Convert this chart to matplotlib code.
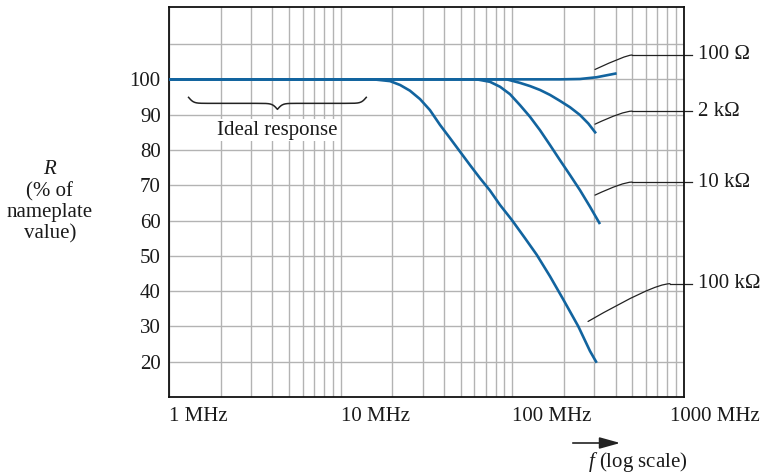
import numpy as np
import matplotlib.pyplot as plt
import matplotlib.patches as mpatches
import matplotlib.transforms as mtransforms

plt.rcParams['font.family'] = 'Liberation Serif'
plt.rcParams['mathtext.fontset'] = 'custom'
plt.rcParams['mathtext.rm'] = 'Liberation Serif'
plt.rcParams['mathtext.it'] = 'Liberation Serif:italic'

# frequency (MHz) and R (% of nameplate value)
f_100 = [1, 189.5, 248, 310, 405]
r_100 = [100, 100, 100.1, 100.6, 101.7]

f_2k = [1, 92.7, 110.8, 126.7, 144.9, 165.7, 189.5, 216.7, 247.8, 277, 307]
r_2k = [100, 100, 99.0, 98.1, 97.0, 95.6, 93.9, 92.1, 89.9, 87.5, 84.7]

f_10k = [1, 62.0, 74.1, 84.8, 96.9, 110.8, 126.7, 144.9, 165.7, 189.5, 216.7,
         247.8, 283.5, 324]
r_10k = [100, 100, 99.3, 97.9, 95.8, 92.7, 89.4, 85.6, 81.4, 77.1, 72.9,
         68.6, 63.9, 59.0]

f_100k = [1, 15.5, 19.4, 22.2, 25.3, 29.0, 33.1, 37.9, 43.4, 49.6, 56.7, 64.8,
          74.1, 84.8, 99.2, 118.5, 138.7, 165.7, 198.2, 242.3, 283.5, 310]
r_100k = [100, 100, 99.5, 98.4, 96.8, 94.4, 91.3, 87.1, 83.3, 79.5, 75.7, 72.0,
          68.5, 64.4, 60.2, 55.0, 50.3, 44.2, 37.6, 30.0, 23.0, 19.7]

series_f = [f_100, f_2k, f_10k, f_100k]
series_r = [r_100, r_2k, r_10k, r_100k]

# leader lines for the curve labels
labels = ['100 \u03a9', '2 k\u03a9', '10 k\u03a9', '100 k\u03a9']
lead_f = [303, 303, 303, 276]
lead_r = [102.8, 87.3, 67.2, 31.4]
join_f = [498, 498, 498, 829]
label_r = [106.9, 91.0, 70.9, 42.1]
lead_angle = [25, 25, 25, 30]
hline_end_f = 1113
label_f = 1207

xticks = [1, 10, 100, 1000]
xticklabels = ['1 MHz', '10 MHz', '100 MHz', '1000 MHz']
yticks = [20, 30, 40, 50, 60, 70, 80, 90, 100, 110]
yticklabels = ['20', '30', '40', '50', '60', '70', '80', '90', '100', '']

brace_f = [1.3, 14.1]
brace_top = 94.9

blue = '#12649f'
grid_c = '#b3b3b3'
ink = '#222222'
txt_c = '#1a1a1a'

fig = plt.figure(figsize=(7.62, 4.75), dpi=100)
ax = fig.add_axes([169/762, 1 - 397/475, (684 - 169)/762, (397 - 7)/475])
ax.set_xscale('log')
ax.set_xlim(1, 1000)
ax.set_ylim(10, 120.5)

ax.set_xticks(xticks)
ax.set_xticklabels(xticklabels, ha='left')
ax.set_yticks(yticks)
ax.set_yticklabels(yticklabels)
ax.tick_params(which='both', length=0, labelsize=15, colors=txt_c)
ax.tick_params(axis='y', pad=6)
ax.tick_params(axis='x', pad=7)
ax.grid(True, which='both', color=grid_c, lw=1.0)
ax.set_axisbelow(True)
for s in ax.spines.values():
    s.set_linewidth(1.3)
    s.set_color('#111111')

# last tick label is pulled back so it fits the figure
lab = ax.get_xticklabels()[-1]
lab.set_transform(lab.get_transform() + mtransforms.ScaledTranslation(-14/100, 0, fig.dpi_scale_trans))

for fx, rx in zip(series_f, series_r):
    ax.plot(fx, rx, color=blue, lw=1.9, solid_capstyle='butt', solid_joinstyle='round', zorder=3)

for i in range(len(labels)):
    ax.annotate('', xy=(lead_f[i], lead_r[i]), xytext=(join_f[i], label_r[i]),
                arrowprops=dict(arrowstyle='-', color=ink, lw=0.9, shrinkA=0, shrinkB=0,
                                connectionstyle='angle3,angleA=0,angleB=%d' % lead_angle[i]),
                annotation_clip=False)
    ax.plot([join_f[i], hline_end_f], [label_r[i], label_r[i]], color=ink, lw=0.9,
            clip_on=False)
    ax.text(label_f, label_r[i], labels[i], fontsize=15, va='center', ha='left', color=txt_c)

# curly brace over the ideal range
l1, l2 = np.log10(brace_f[0]), np.log10(brace_f[1])
u = np.linspace(0, 1, 300)
beta = 35
half = 1/(1 + np.exp(-beta*u)) + 1/(1 + np.exp(-beta*(u - 1)))
yh = brace_top - (half - 0.5)*3.4
xh = l1 + u*(l2 - l1)/2
bx = np.concatenate([xh, l2 - (xh[::-1] - l1)])
by = np.concatenate([yh, yh[::-1]])
ax.plot(10**bx, by, color=ink, lw=1.1, zorder=4)
ax.text(10**((l1 + l2)/2), 85.6, 'Ideal response', fontsize=15, ha='center', va='center',
        color=txt_c, bbox=dict(facecolor='white', edgecolor='none', pad=1), zorder=4)

# y axis caption
fig.text(50/762, 1 - 174/475, '$R$', fontsize=15, ha='center', va='baseline', color=txt_c)
fig.text(50/762, 1 - 196/475, '(% of', fontsize=15, ha='center', va='baseline', color=txt_c)
fig.text(50/762, 1 - 217/475, 'nameplate', fontsize=15, ha='center', va='baseline', color=txt_c)
fig.text(50/762, 1 - 238/475, 'value)', fontsize=15, ha='center', va='baseline', color=txt_c)

# x axis caption with arrow
fig.patches.append(mpatches.FancyArrowPatch(
    (570/762, 1 - 443/475), (623/762, 1 - 443/475), transform=fig.transFigure,
    arrowstyle='-|>,head_length=0.9,head_width=0.25', mutation_scale=14,
    color=ink, lw=1.2))
fig.text(638/762, 1 - 467/475, '$f$ (log scale)', fontsize=15, ha='center', va='baseline',
         color=txt_c)

fig.savefig('out.png', dpi=100)
